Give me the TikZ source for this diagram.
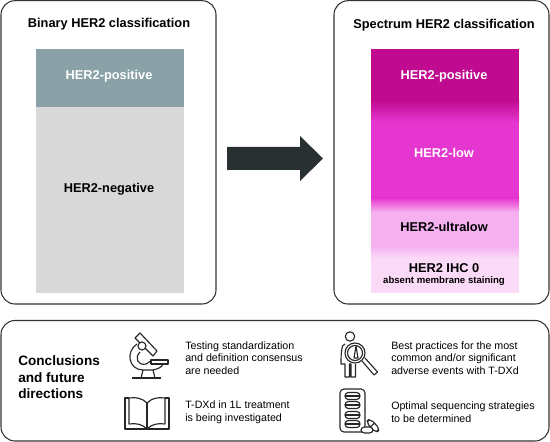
\documentclass[tikz,border=0pt]{standalone}
\usepackage{fontspec}
\setmainfont{Liberation Sans}
\definecolor{cslate}{RGB}{138,162,167}
\definecolor{cgray}{RGB}{217,217,217}
\definecolor{cdark}{RGB}{41,48,50}
\definecolor{cmag}{RGB}{192,10,144}
\definecolor{cpink}{RGB}{229,54,207}
\definecolor{clight}{RGB}{245,176,240}
\definecolor{cpale}{RGB}{251,218,247}
\tikzset{herfig/.style={x=0.75pt,y=-0.75pt,font=\fontsize{8pt}{9.5pt}\selectfont},
  panel/.style={draw=black!80,line width=0.8pt,rounded corners=10.5pt},
  heading/.style={font=\fontsize{9.6pt}{11pt}\selectfont\bfseries},
  barlabel/.style={font=\fontsize{9.6pt}{11pt}\selectfont\bfseries},
  note/.style={anchor=west,align=left,inner sep=0pt},
  icon/.style={line width=0.85pt,line join=round,black!85}}

\begin{document}
\begin{tikzpicture}[herfig]
    \useasboundingbox (0,0) rectangle (550,442);
    \draw[panel] (1,0.7) rectangle (216,304); % left panel
    \draw[panel] (334,0.7) rectangle (549,304); % right panel
    \draw[panel] (1,320.5) rectangle (549,441); % bottom panel
    \fill[cslate] (35.5,49) rectangle (184,107.5);
    \fill[cgray] (35.5,107.5) rectangle (184,293);
    \fill[cmag] (371,49) rectangle (519,100);
    \shade[top color=cmag,bottom color=cpink] (371,100) rectangle (519,122);
    \fill[cpink] (371,122) rectangle (519,198);
    \shade[top color=cpink,bottom color=clight] (371,198) rectangle (519,212);
    \fill[clight] (371,212) rectangle (519,246);
    \shade[top color=clight,bottom color=cpale] (371,246) rectangle (519,258);
    \fill[cpale] (371,258) rectangle (519,293);
    \fill[cdark] (227,147) -- (300,147) -- (300,136) -- (323,158.5) -- (300,181) -- (300,170) -- (227,170) -- cycle; % big arrow
    \node[heading] (binary) at (109,24.5) {Binary HER2 classification};
    \node[heading] (spectrum) at (444,25) {Spectrum HER2 classification};
    \node[barlabel,white] (pos) at (109,76.5) {HER2-positive};
    \node[barlabel] (neg) at (109,189.5) {HER2-negative};
    \node[barlabel,white] (specpos) at (444,76.5) {HER2-positive};
    \node[barlabel,white] (low) at (444,153) {HER2-low};
    \node[barlabel] (ultra) at (444,227) {HER2-ultralow};
    \node[barlabel] (ihc) at (444,268.5) {HER2 IHC 0};
    \node[font=\fontsize{7.2pt}{8pt}\selectfont\bfseries] (absent) at (444,281) {absent membrane staining};
    \node[anchor=west,align=left,inner sep=0pt,font=\fontsize{10.2pt}{12.4pt}\selectfont\bfseries] (concl) at (18,377.5) {Conclusions\\and future\\directions};
    \node[note] (test) at (185,358) {Testing standardization\\and definition consensus\\are needed};
    \node[note] (tdxd) at (185,412) {T-DXd in 1L treatment\\is being investigated};
    \node[note] (best) at (391,358) {Best practices for the most\\common and/or significant\\adverse events with T-DXd};
    \node[note] (optim) at (391,412) {Optimal sequencing strategies\\to be determined};
    % microscope
    \draw[icon] (140,333) -- (157,351) -- (153,356) -- (135,338) -- cycle;
    \draw[icon,fill=white] (142,346) circle (4);
    \draw[icon] (151,360) rectangle (168,364);
    \draw[icon] (132,378) -- (161,378);
    \draw[icon] (141,378) -- (143,370) -- (153,370) -- (155,378);
    \draw[icon] (137,344) .. controls (125,352) and (129,370) .. (143,370);
    \draw[icon] (140,352) .. controls (134,358) and (138,366) .. (146,364) -- (151,361);
    \draw[icon] (153,370) .. controls (158,369) and (162,367) .. (163,364);
    % book
    \draw[icon] (129,398) -- (125,398) -- (125,429) -- (169,429) -- (169,398) -- (165,398);
    \draw[icon] (147,403) .. controls (142,398) and (136,397) .. (129,398) -- (129,424) .. controls (136,423) and (142,424) .. (147,429);
    \draw[icon] (147,403) .. controls (152,398) and (158,397) .. (165,398) -- (165,424) .. controls (158,423) and (152,424) .. (147,429);
    \draw[icon] (147,403) -- (147,429);
    % person with magnifier
    \draw[icon] (350,336.5) circle (4.7);
    \draw[icon] (345,344) -- (342.5,346) .. controls (341,352) and (341,358) .. (341,364) -- (345,364) -- (345,377) -- (349.5,377) -- (349.5,364) -- (351,364) -- (351,377) -- (355.5,377) -- (355.5,364);
    \draw[icon,fill=white] (355,353) circle (10);
    \draw[icon] (355,353) circle (7.5);
    \draw[icon] (356,346) -- (358,358) -- (354,358) -- cycle;
    \draw[icon] (362,361) -- (374,375) -- (377.5,372) -- (365,358);
    % pills
    \draw[icon,rounded corners=3pt] (340,389) rectangle (365,432);
    \foreach \y in {396,405,415,424} {
      \draw[icon,rounded corners=2.5pt] (345,\y-3.5) rectangle (360,\y+3.5);
      \draw[icon] (345,\y) -- (360,\y);
    }
    \draw[icon,fill=white,rounded corners=3pt] (366,422) -- (370,418.5) -- (380,429) -- (376,433) -- cycle;
    \draw[icon] (368,429) -- (374,423.5);
    \draw[icon,fill=white,rounded corners=2.5pt] (361,427) rectangle (373,433);
\end{tikzpicture}
\end{document}
